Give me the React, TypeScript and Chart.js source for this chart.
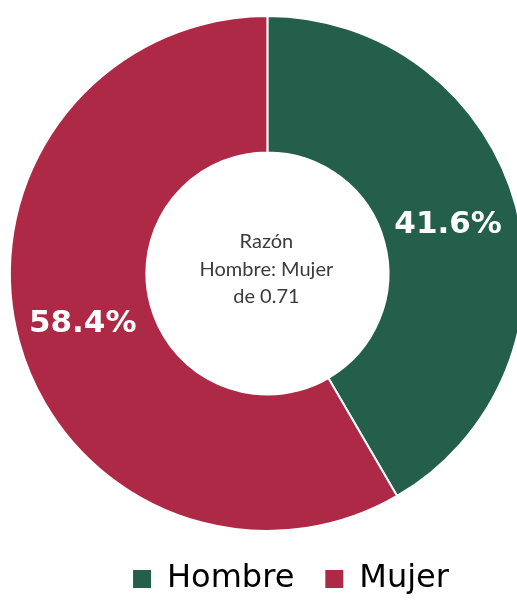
import React, { useEffect, useRef } from "react";
import { Chart, registerables } from "chart.js";

Chart.register(...registerables);

const categories = ["Hombre", "Mujer"];
const values = [41.6, 58.4];
const valueLabels = ["41.6%", "58.4%"];
const centerLines = ["Razón", "Hombre: Mujer", "de 0.71"];
const colors = ["#245F4B", "#AE2946"];

export default function App() {
  const ref = useRef<HTMLCanvasElement>(null);

  useEffect(() => {
    const canvas = ref.current;
    if (!canvas) return;

    const labelPlugin = {
      id: "sliceLabels",
      afterDatasetsDraw(chart: any) {
        const ctx = chart.ctx;
        const meta = chart.getDatasetMeta(0);
        ctx.save();
        ctx.textAlign = "center";
        ctx.textBaseline = "middle";
        ctx.fillStyle = "#ffffff";
        ctx.font = "bold 31px 'DejaVu Sans'";
        meta.data.forEach((arc: any, i: number) => {
          const p = arc.tooltipPosition(false);
          ctx.fillText(valueLabels[i], p.x - 2, p.y + 1);
        });
        const cx = meta.data[0].x;
        const cy = meta.data[0].y;
        ctx.fillStyle = "#3b3b3b";
        ctx.font = "20px Lato";
        centerLines.forEach((t, i) => {
          ctx.fillText(t, cx - 1, cy - 4 + (i - 1) * 27.5);
        });
        ctx.restore();
      },
    };

    const chart = new Chart(canvas, {
      type: "doughnut",
      data: {
        labels: categories,
        datasets: [
          {
            data: values,
            backgroundColor: colors,
            borderColor: "#ffffff",
            borderWidth: 2,
          },
        ],
      },
      options: {
        responsive: false,
        animation: false,
        cutout: "47%",
        layout: { padding: { top: 15, left: 0, right: 0, bottom: 0 } },
        plugins: {
          tooltip: { enabled: false },
          subtitle: {
            display: true,
            position: "right",
            text: "",
            font: { size: 1 },
            padding: { top: 23, bottom: 23 },
          },
          legend: {
            position: "bottom",
            labels: {
              boxWidth: 18,
              boxHeight: 18,
              padding: 31,
              color: "#3a3a3a",
              font: { size: 32, family: "'DejaVu Sans'" },
              generateLabels: () =>
                categories.map((t, i) => ({
                  text: t,
                  fillStyle: colors[i],
                  strokeStyle: colors[i],
                  lineWidth: 0,
                  hidden: false,
                  index: i,
                  datasetIndex: 0,
                })),
            },
          },
        },
      },
      plugins: [labelPlugin],
    });

    return () => chart.destroy();
  }, []);

  return (
    <div
      style={{
        position: "fixed",
        left: 0,
        top: 0,
        width: 517,
        height: 601,
        overflow: "hidden",
        background: "#ffffff",
      }}
    >
      <canvas
        ref={ref}
        width={600}
        height={605}
        style={{ position: "absolute", left: -9, top: 0, width: 600, height: 605 }}
      />
    </div>
  );
}
